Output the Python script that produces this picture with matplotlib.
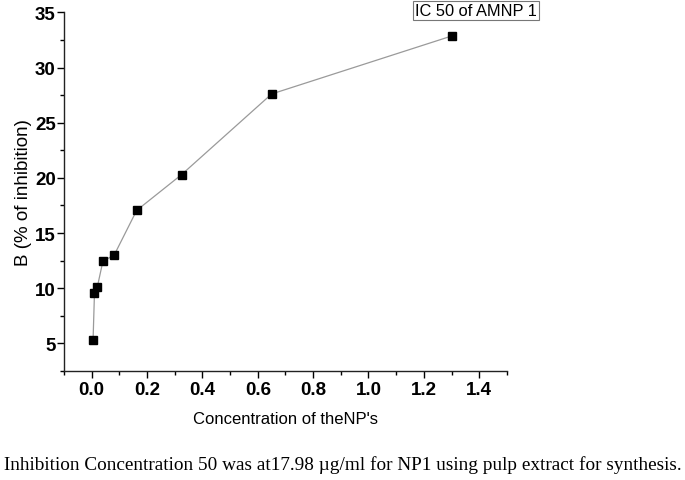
import numpy as np
import matplotlib.pyplot as plt
from matplotlib.ticker import MultipleLocator

# concentration (two-fold dilution series) and % inhibition
conc = [0.0051, 0.0102, 0.0203, 0.0406, 0.0813, 0.1625, 0.325, 0.65, 1.3]
inhibition = [5.3, 9.6, 10.1, 12.45, 13.0, 17.05, 20.3, 27.6, 32.85]

plt.rcParams["font.family"] = ["Liberation Sans", "DejaVu Sans"]

fig = plt.figure(figsize=(6.85, 4.81), dpi=100)
ax = fig.add_axes([0.0934, 0.2266, 0.6466, 0.7457])

ax.plot(conc, inhibition, color="#9a9a9a", lw=0.9, marker="s",
        markersize=5.5, markerfacecolor="black", markeredgecolor="black")

ax.set_xlim(-0.1, 1.5)
ax.set_ylim(2.5, 35)
ax.xaxis.set_major_locator(MultipleLocator(0.2))
ax.xaxis.set_minor_locator(MultipleLocator(0.1))
ax.yaxis.set_major_locator(MultipleLocator(5))
ax.yaxis.set_minor_locator(MultipleLocator(2.5))
ax.xaxis.set_major_formatter(lambda v, p: f"{v:.1f}")

for s in ["top", "right"]:
    ax.spines[s].set_visible(False)
for s in ["left", "bottom"]:
    ax.spines[s].set_linewidth(1.0)
    ax.spines[s].set_color("#222222")

ax.tick_params(which="major", direction="out", length=5, width=1, labelsize=13.5, pad=2.5)
ax.tick_params(axis="y", which="major", pad=1)
ax.tick_params(which="minor", direction="out", length=3, width=1)
for lbl in ax.get_xticklabels() + ax.get_yticklabels():
    lbl.set_fontweight("bold")

ax.set_xlabel("Concentration of theNP's", fontsize=12, labelpad=9)
ax.set_ylabel("B (% of inhibition)", fontsize=13.5, labelpad=2)

# legend-like label box
fig.text(0.695, 0.976, "IC 50 of AMNP 1", fontsize=11.8, ha="center", va="center",
         bbox=dict(boxstyle="square,pad=0.12", facecolor="white", edgecolor="#777777", lw=0.8))

fig.text(0.5, 0.033, "Inhibition Concentration 50 was at17.98 \u00b5g/ml for NP1 using pulp extract for synthesis.",
         fontsize=13.9, ha="center", va="center", family=["Liberation Serif", "DejaVu Serif"])

fig.savefig("out.png", dpi=100)
